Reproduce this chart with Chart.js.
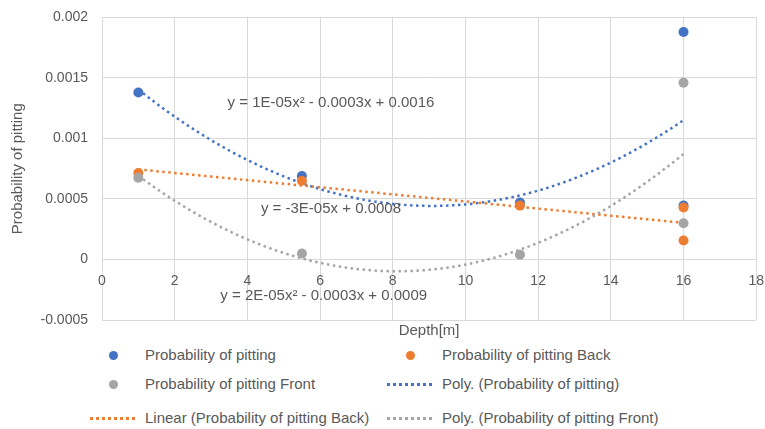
<!DOCTYPE html>
<html>
<head>
<meta charset="utf-8">
<script src="https://cdn.jsdelivr.net/npm/chart.js@4.4.1/dist/chart.umd.min.js"></script>
<style>
  body { margin: 0; background: #fff; font-family: "Liberation Sans", Arial, sans-serif; color: #595959; }
  #wrap { position: relative; width: 765px; height: 429px; overflow: hidden; }
  #chart { position: absolute; left: 0; top: -5px; }
  .lg { position: absolute; font-size: 15px; line-height: 16px; white-space: nowrap; }
  .dot { position: absolute; width: 9px; height: 9px; border-radius: 50%; }
  .dash { position: absolute; width: 45px; height: 0; border-top: 3px dotted; }
</style>
</head>
<body>
<div id="wrap">
  <canvas id="chart" width="777" height="350"></canvas>
  <div id="legend"></div>
</div>
<script>
// data
const depth = [1, 5.5, 11.5, 16, 16];
const pitting = [0.00138, 0.00069, 0.00047, 0.00188, 0.000445];
const pittingBack = [0.000714, 0.00065, 0.000445, 0.00043, 0.000157];
const pittingFront = [0.000675, 0.00005, 0.00004, 0.00146, 0.0003];

const seriesNames = ['Probability of pitting', 'Probability of pitting Back', 'Probability of pitting Front'];
const trendNames = ['Poly. (Probability of pitting)', 'Linear (Probability of pitting Back)', 'Poly. (Probability of pitting Front)'];
const equations = ['y = 1E-05x² - 0.0003x + 0.0016', 'y = -3E-05x + 0.0008', 'y = 2E-05x² - 0.0003x + 0.0009'];

const colors = ['#4472C4', '#ED7D31', '#A5A5A5'];

// least squares polynomial fit (what the spreadsheet trendline does)
function polyfit(xs, ys, deg) {
    const n = deg + 1;
    const A = [];
    for (let i = 0; i < n; i++) {
        A.push([]);
        for (let j = 0; j < n; j++) {
            A[i].push(xs.reduce((s, x) => s + Math.pow(x, i + j), 0));
        }
        A[i].push(xs.reduce((s, x, k) => s + ys[k] * Math.pow(x, i), 0));
    }
    for (let c = 0; c < n; c++) {
        for (let r = c + 1; r < n; r++) {
            const f = A[r][c] / A[c][c];
            for (let k = c; k <= n; k++) A[r][k] -= f * A[c][k];
        }
    }
    const coef = new Array(n).fill(0);
    for (let r = n - 1; r >= 0; r--) {
        let s = A[r][n];
        for (let k = r + 1; k < n; k++) s -= A[r][k] * coef[k];
        coef[r] = s / A[r][r];
    }
    return coef;
}

function trend(ys, deg) {
    const coef = polyfit(depth, ys, deg);
    const pts = [];
    const lo = Math.min(...depth), hi = Math.max(...depth);
    for (let x = lo; x <= hi + 1e-9; x += 0.25) {
        pts.push({ x: x, y: coef.reduce((s, c, i) => s + c * Math.pow(x, i), 0) });
    }
    return pts;
}

const toPoints = ys => depth.map((x, i) => ({ x: x, y: ys[i] }));

const pointSets = [pitting, pittingBack, pittingFront].map((ys, i) => ({
    label: seriesNames[i],
    data: toPoints(ys),
    backgroundColor: colors[i],
    borderColor: colors[i],
    pointRadius: 5,
    pointBorderWidth: 0,
    showLine: false,
    order: 3 - i
}));

const trendSets = [[pitting, 2], [pittingBack, 1], [pittingFront, 2]].map((t, i) => ({
    label: trendNames[i],
    data: trend(t[0], t[1]),
    borderColor: colors[i],
    borderWidth: 2.5,
    borderDash: [2.5, 3.5],
    pointRadius: 0,
    showLine: true,
    fill: false,
    order: 10 - i
}));

const textPlugin = {
    id: 'texts',
    afterDraw(chart) {
        const ctx = chart.ctx;
        const xs = chart.scales.x, ys = chart.scales.y;
        const area = chart.chartArea;
        ctx.save();
        ctx.fillStyle = '#595959';
        ctx.font = '15px "Liberation Sans", Arial, sans-serif';
        ctx.textAlign = 'center';
        ctx.textBaseline = 'middle';
        const spots = [[6.3, 0.00129], [6.3, 0.00042], [6.1, -0.0003]];
        equations.forEach((eq, i) => {
            ctx.fillText(eq, xs.getPixelForValue(spots[i][0]), ys.getPixelForValue(spots[i][1]));
        });
        ctx.fillText('Depth[m]', (area.left + area.right) / 2, area.bottom + 11);
        ctx.restore();
    }
};

new Chart(document.getElementById('chart'), {
    type: 'scatter',
    data: { datasets: pointSets.concat(trendSets) },
    options: {
        responsive: false,
        animation: false,
        layout: { padding: { left: 0, right: 0, top: 11, bottom: 25 } },
        plugins: { legend: { display: false }, tooltip: { enabled: false } },
        scales: {
            x: {
                type: 'linear',
                min: 0, max: 18,
                position: { y: 0 },
                ticks: { stepSize: 2, color: '#595959', font: { size: 14, family: '"Liberation Sans", Arial, sans-serif' }, padding: 13 },
                grid: { color: '#d9d9d9', drawTicks: false },
                border: { display: false }
            },
            y: {
                min: -0.0005, max: 0.002,
                afterFit(scale) { scale.width = 102; },
                ticks: {
                    stepSize: 0.0005,
                    color: '#595959',
                    font: { size: 14, family: '"Liberation Sans", Arial, sans-serif' },
                    padding: 14,
                    callback: v => String(+v.toFixed(4))
                },
                grid: { color: '#d9d9d9', drawTicks: false },
                border: { display: false },
                title: {
                    display: true,
                    text: 'Probability of pitting',
                    color: '#595959',
                    font: { size: 15, family: '"Liberation Sans", Arial, sans-serif' },
                    padding: { top: 9, bottom: 0 }
                }
            }
        }
    },
    plugins: [textPlugin]
});

// legend below the chart, two columns like the original
const legendItems = seriesNames.map((n, i) => ({ text: n, color: colors[i], kind: 'dot' }))
    .concat(trendNames.map((n, i) => ({ text: n, color: colors[i], kind: 'dash' })));
const legend = document.getElementById('legend');
const colX = [145, 442], rowY = [355, 384, 418];
legendItems.forEach((item, i) => {
    const col = i % 2, row = Math.floor(i / 2);
    const cy = rowY[row];
    const mark = document.createElement('div');
    mark.className = item.kind;
    if (item.kind === 'dot') {
        mark.style.background = item.color;
        mark.style.left = (colX[col] - 36) + 'px';
        mark.style.top = (cy - 4.5) + 'px';
    } else {
        mark.style.borderColor = item.color;
        mark.style.left = (colX[col] - 55) + 'px';
        mark.style.top = (cy - 1.5) + 'px';
    }
    legend.appendChild(mark);
    const t = document.createElement('div');
    t.className = 'lg';
    t.textContent = item.text;
    t.style.left = colX[col] + 'px';
    t.style.top = (cy - 8) + 'px';
    legend.appendChild(t);
});
</script>
</body>
</html>
